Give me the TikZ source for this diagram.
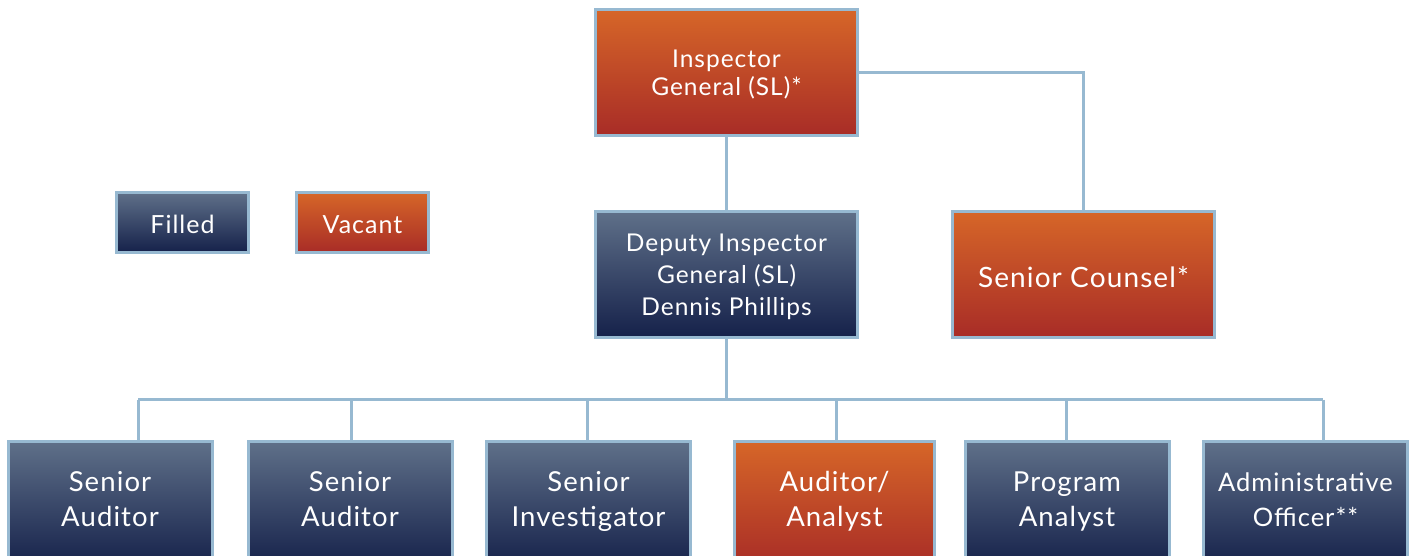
\documentclass[tikz,border=0pt]{standalone}
\usepackage{fontspec}
\setmainfont[LetterSpace=4]{Lato}
\definecolor{bordc}{HTML}{97B9D1}
\definecolor{bluetop}{HTML}{5F7089}
\definecolor{bluebot}{HTML}{15214A}
\definecolor{orgtop}{HTML}{D66628}
\definecolor{orgbot}{HTML}{A82C27}
\tikzset{
  box/.style={rectangle, draw=bordc, line width=3pt, inner sep=0pt},
  filledbox/.style={box, top color=bluetop, bottom color=bluebot},
  vacantbox/.style={box, top color=orgtop, bottom color=orgbot},
  bigbox/.style={minimum width=262pt, minimum height=126pt},
  lowbox/.style={minimum width=204pt, minimum height=126pt},
  legbox/.style={minimum width=132pt, minimum height=60pt},
  lbl/.style={inner sep=0pt, text=white, align=center},
  lowlbl/.style={lbl, font=\fontsize{27.5}{35}\selectfont,
    execute at begin node=\strut, execute at end node=\strut},
  conn/.style={draw=bordc, line width=3pt}
}
\begin{document}
\begin{tikzpicture}[x=1pt,y=-1pt]
\clip (0,0) rectangle (1413,555);
\fill[white] (0,0) rectangle (1413,555);
% top
\node[vacantbox,bigbox] (ig) at (726.5,72.5) {};
\node[lbl,font=\fontsize{24.5}{28}\selectfont] (igt) at ([yshift=-2pt]ig.center) {Inspector\\General (SL)*};
\node[filledbox,bigbox] (dep) at (726.5,274.5) {};
\node[lbl,font=\fontsize{24.5}{32}\selectfont] (dept) at ([yshift=-2.5pt]dep.center) {Deputy Inspector\\General (SL)\\Dennis Phillips};
\node[vacantbox,bigbox] (sc) at (1083.5,274.5) {};
\node[lbl,font=\fontsize{28}{33}\selectfont] (sct) at ([yshift=-3pt]sc.center) {Senior Counsel*};
% legend
\node[filledbox,legbox] (lf) at (182.5,222.5) {};
\node[lbl,font=\fontsize{25}{30}\selectfont] (lft) at ([yshift=-2pt]lf.center) {Filled};
\node[vacantbox,legbox] (lv) at (362.5,222.5) {};
\node[lbl,font=\fontsize{25}{30}\selectfont] (lvt) at ([yshift=-2pt]lv.center) {Vacant};
% bottom row
\node[filledbox,lowbox] (b1) at (110,504.5) {};
\node[lowlbl] (b1t) at (b1.center) {Senior\\Auditor};
\node[filledbox,lowbox] (b2) at (350,504.5) {};
\node[lowlbl] (b2t) at (b2.center) {Senior\\Auditor};
\node[filledbox,lowbox] (b3) at (588.5,504.5) {};
\node[lowlbl] (b3t) at (b3.center) {Senior\\Investigator};
\node[vacantbox,lowbox,minimum width=200pt] (b4) at (834.5,504.5) {};
\node[lowlbl] (b4t) at (b4.center) {Auditor/\\Analyst};
\node[filledbox,lowbox] (b5) at (1067,504.5) {};
\node[lowlbl] (b5t) at (b5.center) {Program\\Analyst};
\node[filledbox,lowbox] (b6) at (1305.5,504.5) {};
\node[lowlbl,font=\fontsize{25.5}{35}\selectfont] (b6t) at (b6.center) {Administrative\\Officer**};
% connectors
\draw[conn] (ig.south) -- (dep.north);
\draw[conn] (ig.east) -| (sc.north);
\coordinate (j1) at (138,399.5);
\coordinate (j2) at (351,399.5);
\coordinate (j3) at (587.5,399.5);
\coordinate (j4) at (836,399.5);
\coordinate (j5) at (1066,399.5);
\coordinate (j6) at (1323,399.5);
\draw[conn] (dep.south) -- (dep.south |- j1);
\draw[conn] (j1) -- (j6);
\draw[conn] (j1) -- (j1 |- b1.north);
\draw[conn] (j2) -- (j2 |- b2.north);
\draw[conn] (j3) -- (j3 |- b3.north);
\draw[conn] (j4) -- (j4 |- b4.north);
\draw[conn] (j5) -- (j5 |- b5.north);
\draw[conn] (j6) -- (j6 |- b6.north);
\end{tikzpicture}
\end{document}
